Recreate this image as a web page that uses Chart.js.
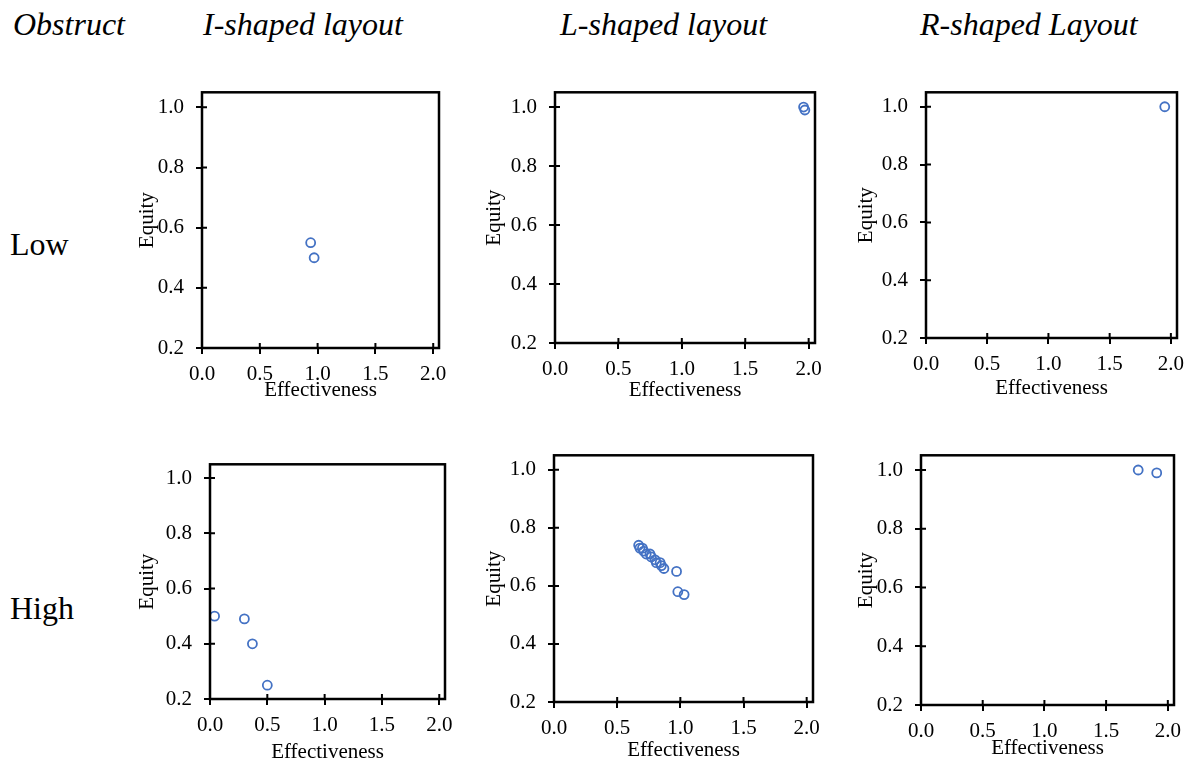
<!doctype html>
<html lang="en">
<head>
<meta charset="UTF-8" />
<title>Obstruct layouts</title>
<script src="https://cdn.jsdelivr.net/npm/chart.js"></script>
<style>
    body { margin: 0; background: #fff; width: 1194px; height: 764px; position: relative; overflow: hidden;
           font-family: "Liberation Serif", "Times New Roman", serif; color: #000; }
    .lbl { position: absolute; white-space: nowrap; line-height: 1; }
    .head { font-style: italic; font-size: 32px; }
    .row { font-size: 32px; }
    canvas { position: absolute; }
</style>
</head>
<body>
<div class="lbl head" style="left:13px; top:8px;">Obstruct</div>
<div class="lbl head" style="left:203px; top:8px;">I-shaped layout</div>
<div class="lbl head" style="left:560px; top:8px;">L-shaped layout</div>
<div class="lbl head" style="left:920px; top:8px;">R-shaped Layout</div>
<div class="lbl row" style="left:10px; top:228px;">Low</div>
<div class="lbl row" style="left:10px; top:592px;">High</div>

<canvas id="c1"></canvas>
<canvas id="c2"></canvas>
<canvas id="c3"></canvas>
<canvas id="c4"></canvas>
<canvas id="c5"></canvas>
<canvas id="c6"></canvas>

<script>
    // tick labels
    const xTicks = [0.0, 0.5, 1.0, 1.5, 2.0];
    const yTicks = [0.2, 0.4, 0.6, 0.8, 1.0];

    // Low obstruct
    const lowI_x = [0.94, 0.97];
    const lowI_y = [0.55, 0.50];
    const lowL_x = [1.96, 1.97];
    const lowL_y = [1.00, 0.99];
    const lowR_x = [1.95];
    const lowR_y = [1.00];

    // High obstruct
    const highI_x = [0.04, 0.30, 0.37, 0.50];
    const highI_y = [0.50, 0.49, 0.40, 0.25];
    const highL_x = [0.67, 0.68, 0.70, 0.71, 0.73, 0.76, 0.77, 0.80, 0.81, 0.84, 0.85, 0.87, 0.97, 0.98, 1.03];
    const highL_y = [0.74, 0.73, 0.73, 0.72, 0.71, 0.71, 0.70, 0.69, 0.68, 0.68, 0.67, 0.66, 0.65, 0.58, 0.57];
    const highR_x = [1.76, 1.91];
    const highR_y = [1.00, 0.99];

    const FONT = '"Liberation Serif", "Times New Roman", serif';
    const BLUE = '#4472C4';
    const YW = 80;   // space left of plot
    const XH = 70;   // space under plot

    /* plot box: left, top, right, bottom + title offsets */
    const panels = [
        { id: 'c1', xs: lowI_x, ys: lowI_y, L: 202, T: 92, R: 439, B: 348, eq: 54, ef: 42 },
        { id: 'c2', xs: lowL_x, ys: lowL_y, L: 555, T: 92, R: 815, B: 343, eq: 60, ef: 47 },
        { id: 'c3', xs: lowR_x, ys: lowR_y, L: 926, T: 92, R: 1177, B: 338, eq: 59, ef: 50 },
        { id: 'c4', xs: highI_x, ys: highI_y, L: 210, T: 464, R: 445, B: 699, eq: 62, ef: 53 },
        { id: 'c5', xs: highL_x, ys: highL_y, L: 554, T: 455, R: 813, B: 702, eq: 59, ef: 48 },
        { id: 'c6', xs: highR_x, ys: highR_y, L: 921, T: 455, R: 1174, B: 705, eq: 54, ef: 43 }
    ];

    // box around plot + inward half of the cross tick marks
    const boxPlugin = {
        id: 'box',
        afterDraw(chart) {
            const a = chart.chartArea;
            const c = chart.ctx;
            c.save();
            c.strokeStyle = '#000';
            c.lineWidth = 2;
            c.beginPath();
            xTicks.forEach(v => {
                const px = chart.scales.x.getPixelForValue(v);
                c.moveTo(px, a.bottom); c.lineTo(px, a.bottom - 5);
            });
            yTicks.forEach(v => {
                const py = chart.scales.y.getPixelForValue(v);
                c.moveTo(a.left, py); c.lineTo(a.left + 5, py);
            });
            c.stroke();
            c.lineWidth = 2.5;
            c.strokeRect(a.left, a.top, a.right - a.left, a.bottom - a.top);
            c.restore();
        }
    };

    function makePanel(p) {
        const cv = document.getElementById(p.id);
        const w = (p.R - p.L) + YW + 12;
        const h = (p.B - p.T) + XH + 6;
        cv.style.left = (p.L - YW) + 'px';
        cv.style.top = (p.T - 6) + 'px';
        cv.style.width = w + 'px';
        cv.style.height = h + 'px';
        cv.width = w; cv.height = h;

        const pts = p.xs.map((x, i) => ({ x: x, y: p.ys[i] }));

        new Chart(cv, {
            type: 'scatter',
            data: {
                datasets: [{
                    data: pts,
                    pointStyle: 'circle',
                    pointRadius: 4.5,
                    pointBorderWidth: 1.8,
                    borderColor: BLUE,
                    backgroundColor: 'rgba(255,255,255,0)'
                }]
            },
            options: {
                responsive: false,
                animation: false,
                layout: { padding: { top: 6, right: 12, left: 0, bottom: 0 } },
                plugins: { legend: { display: false }, tooltip: { enabled: false } },
                scales: {
                    x: {
                        type: 'linear', min: 0, max: 2.05,
                        afterFit: s => { s.height = XH; s.paddingLeft = 0; s.paddingRight = 0; },
                        border: { display: false },
                        grid: { drawOnChartArea: false, color: '#000', lineWidth: 2, tickLength: 6 },
                        ticks: {
                            stepSize: 0.5, includeBounds: false, padding: 8, color: '#000',
                            font: { family: FONT, size: 21 },
                            callback: v => v.toFixed(1)
                        },
                        title: {
                            display: true, text: 'Effectiveness', color: '#000',
                            font: { family: FONT, size: 21 },
                            padding: { top: 0, bottom: XH - p.ef - 13 }
                        }
                    },
                    y: {
                        type: 'linear', min: 0.2, max: 1.05,
                        afterFit: s => { s.width = YW; s.paddingTop = 0; s.paddingBottom = 0; },
                        border: { display: false },
                        grid: { drawOnChartArea: false, color: '#000', lineWidth: 2, tickLength: 6 },
                        ticks: {
                            stepSize: 0.2, includeBounds: false, padding: 12, color: '#000',
                            font: { family: FONT, size: 21 },
                            callback: v => v.toFixed(1)
                        },
                        title: {
                            display: true, text: 'Equity', color: '#000',
                            font: { family: FONT, size: 21 },
                            padding: { top: YW - p.eq - 13, bottom: 0 }
                        }
                    }
                }
            },
            plugins: [boxPlugin]
        });
    }

    panels.forEach(makePanel);
</script>
</body>
</html>
